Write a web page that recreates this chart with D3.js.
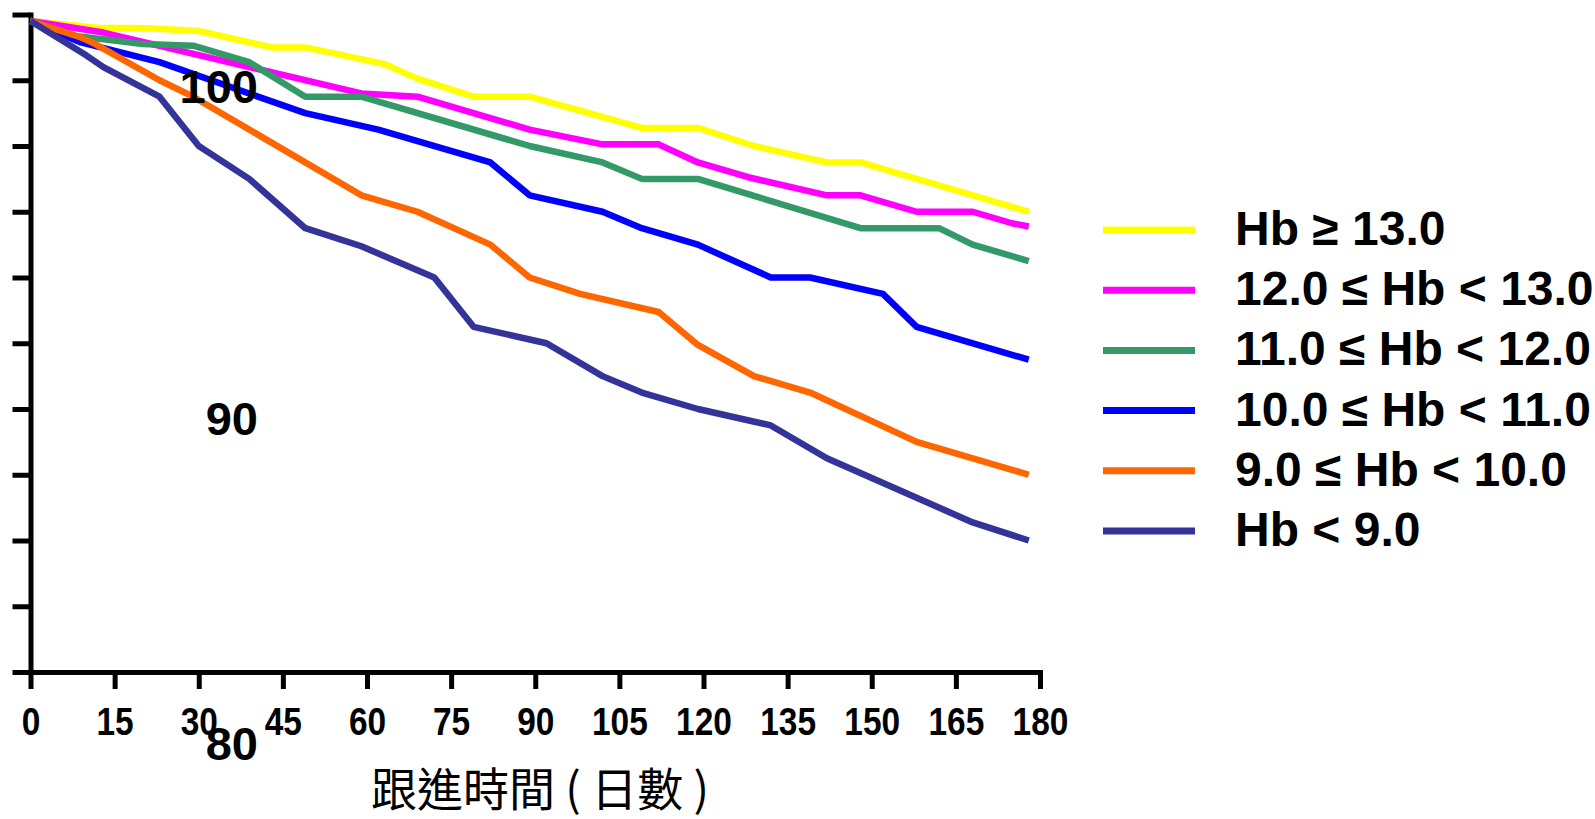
<!DOCTYPE html>
<html>
<head>
<meta charset="utf-8">
<script src="https://cdn.jsdelivr.net/npm/d3@7"></script>
<style>
  html, body { margin: 0; padding: 0; background: #fff; }
  svg { display: block; }
  text { font-family: 'Liberation Sans', Arial, sans-serif; font-weight: bold; fill: #000; }
</style>
</head>
<body>
<svg id="chart" width="1595" height="819"></svg>
<script>
/* global d3 */

// follow-up day ticks
const xTicks = [0, 15, 30, 45, 60, 75, 90, 105, 120, 135, 150, 165, 180]
const yTicks = [80, 82, 84, 86, 88, 90, 92, 94, 96, 98, 100]
const yLabels = ['100', '90', '80']

// legend names, one per Hb group
const groups = ['Hb ≥ 13.0', '12.0 ≤ Hb < 13.0', '11.0 ≤ Hb < 12.0', '10.0 ≤ Hb < 11.0', '9.0 ≤ Hb < 10.0', 'Hb < 9.0']
const colors = ['#ffff00', '#ff00ff', '#339966', '#0000ff', '#ff6600', '#333399']

// [day, percent]
const hb13 = [[0, 99.8], [12, 99.6], [21, 99.58], [30, 99.5], [43, 99.0], [49, 99.0], [63, 98.5], [69, 98.05], [79, 97.5], [89, 97.5], [109, 96.55], [119, 96.55], [129, 96.0], [142, 95.5], [148, 95.5], [178, 94.0]]
const hb12 = [[0, 99.8], [13, 99.45], [59, 97.6], [69, 97.5], [89, 96.5], [102, 96.05], [112, 96.05], [119, 95.5], [128, 95.05], [142, 94.5], [148, 94.5], [158, 94.0], [168, 94.0], [175, 93.65], [178, 93.55]]
const hb11 = [[0, 99.8], [8, 99.35], [20, 99.1], [29, 99.05], [39, 98.55], [49, 97.5], [59, 97.5], [89, 96.0], [102, 95.5], [109, 95.0], [119, 95.0], [148, 93.5], [162, 93.5], [168, 93.0], [178, 92.5]]
const hb10 = [[0, 99.8], [9, 99.15], [23, 98.55], [49, 97.0], [62, 96.5], [82, 95.5], [89, 94.5], [102, 94.0], [109, 93.5], [119, 93.0], [132, 92.0], [139, 92.0], [152, 91.5], [158, 90.5], [178, 89.5]]
const hb9 = [[0, 99.8], [9, 99.3], [11, 99.15], [23, 98.0], [29, 97.5], [59, 94.5], [69, 94.0], [82, 93.0], [89, 92.0], [98, 91.5], [112, 90.95], [119, 89.95], [129, 89.0], [139, 88.5], [158, 87.0], [178, 86.0]]
const hbLow = [[0, 99.8], [10, 98.75], [13, 98.4], [23, 97.5], [30, 96.0], [39, 95.0], [49, 93.5], [59, 92.95], [72, 92.0], [79, 90.5], [92, 90.0], [102, 89.0], [109, 88.5], [119, 88.0], [132, 87.5], [142, 86.5], [168, 84.55], [178, 84.0]]

const series = [hb13, hb12, hb11, hb10, hb9, hbLow]

const svg = d3.select('#chart')

const x = d3.scaleLinear().domain([0, 180]).range([30.5, 1040])
const y = d3.scaleLinear().domain([80, 100]).range([672, 14.5])

// axes
const xAxis = svg.append('g')
  .attr('transform', 'translate(0,672)')
  .call(d3.axisBottom(x).tickValues(xTicks).tickSize(17).tickSizeOuter(0))
const yAxis = svg.append('g')
  .attr('transform', 'translate(30.5,0)')
  .call(d3.axisLeft(y).tickValues(yTicks).tickSize(18).tickSizeOuter(0).tickFormat(''))

;[xAxis, yAxis].forEach((g) => {
  g.select('.domain').attr('stroke', '#000').attr('stroke-width', 5).attr('stroke-linecap', 'square')
  g.selectAll('.tick line').attr('stroke', '#000').attr('stroke-width', 5)
})
// tick numbers are set a little condensed, like the original
xAxis.selectAll('.tick text')
  .attr('fill', '#000')
  .attr('y', 0)
  .attr('dy', 0)
  .attr('transform', 'translate(0,63) scale(0.88,1)')
  .style('font-size', '38px')
  .style('font-family', "'Liberation Sans', Arial, sans-serif")
  .style('font-weight', 'bold')

// curves
const line = d3.line().x((d) => x(d[0])).y((d) => y(d[1]))
svg.append('g').selectAll('path')
  .data(series)
  .join('path')
  .attr('d', line)
  .attr('fill', 'none')
  .attr('stroke', (d, i) => colors[i])
  .attr('stroke-width', 6.5)
  .attr('stroke-linejoin', 'round')

// y labels as they sit in the original figure
const yLabelPos = [103, 435, 760]
svg.append('g').selectAll('text')
  .data(yLabels)
  .join('text')
  .attr('x', 258)
  .attr('y', (d, i) => yLabelPos[i])
  .attr('text-anchor', 'end')
  .style('font-size', '47px')
  .text((d) => d)

// x axis title
svg.append('text')
  .attr('x', 540)
  .attr('y', 786)
  .attr('text-anchor', 'middle')
  .attr('dominant-baseline', 'central')
  .style('font-family', "'Noto Sans CJK TC', 'Noto Sans CJK SC', sans-serif")
  .style('font-weight', 'normal')
  .style('font-size', '46px')
  .style('white-space', 'pre')
  .text('跟進時間 ( 日數 )')

// legend
const legend = svg.append('g').selectAll('g')
  .data(groups)
  .join('g')
  .attr('transform', (d, i) => `translate(1103,${230 + i * 60.2})`)
legend.append('line')
  .attr('x1', 0).attr('x2', 92)
  .attr('stroke', (d, i) => colors[i])
  .attr('stroke-width', 7)
legend.append('text')
  .attr('x', 132)
  .attr('y', 15)
  .style('font-size', '48px')
  .text((d) => d)
</script>
</body>
</html>
